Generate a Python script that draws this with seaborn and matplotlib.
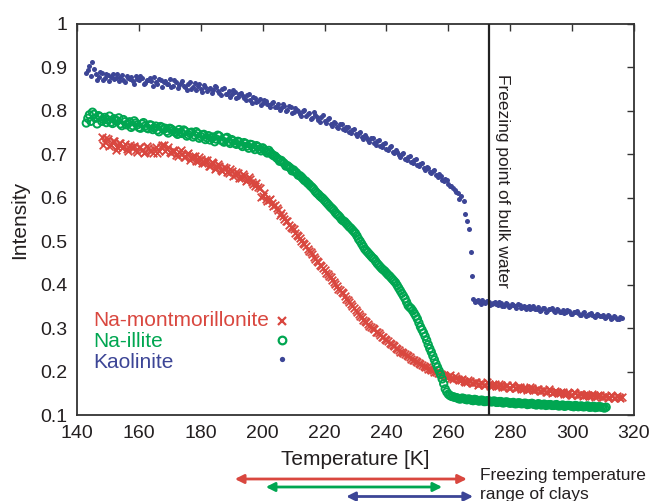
import numpy as np
import pandas as pd
import matplotlib
matplotlib.use("Agg")
import matplotlib.pyplot as plt
import matplotlib.transforms as mtrans
from matplotlib.lines import Line2D
import seaborn as sns

# ---------------- data ----------------
# Na-montmorillonite: samples at whole K from 148 K ...
mont_start = 148
mont_I = [
    0.741, 0.728, 0.735, 0.722, 0.730, 0.716, 0.725, 0.718, 0.712, 0.721,
    0.715, 0.709, 0.718, 0.711, 0.706, 0.714, 0.708, 0.712, 0.704, 0.716,
    0.721, 0.713, 0.705, 0.711, 0.698, 0.706, 0.700, 0.694, 0.703, 0.691,
    0.696, 0.685, 0.690, 0.681, 0.686, 0.674, 0.679, 0.668, 0.674, 0.662,
    0.668, 0.657, 0.662, 0.652, 0.656, 0.646, 0.650, 0.640, 0.643, 0.632,
    0.634, 0.622, 0.605, 0.598, 0.594, 0.589, 0.583, 0.571, 0.565, 0.552,
    0.546, 0.533, 0.527, 0.515, 0.507, 0.497, 0.490, 0.478, 0.470, 0.459,
    0.452, 0.444, 0.434, 0.424, 0.417, 0.405, 0.398, 0.387, 0.380, 0.368,
    0.361, 0.350, 0.342, 0.332, 0.325, 0.316, 0.310, 0.303, 0.297, 0.290,
    0.283, 0.279, 0.272, 0.266, 0.261, 0.254, 0.250, 0.245, 0.240, 0.236,
    0.229, 0.227, 0.221, 0.218, 0.213, 0.210, 0.205, 0.203, 0.199, 0.196,
    0.193, 0.190, 0.188, 0.186, 0.189, 0.182, 0.180, 0.178, 0.176, 0.178,
    0.173, 0.175, 0.171, 0.174, 0.170, 0.172, 0.168, 0.171, 0.167, 0.169,
    0.165, 0.168, 0.163, 0.166, 0.162, 0.164, 0.160, 0.163, 0.159, 0.161,
    0.157, 0.160, 0.155, 0.158, 0.153, 0.156, 0.152, 0.154, 0.150, 0.153,
    0.149, 0.151, 0.147, 0.150, 0.146, 0.148, 0.145, 0.147, 0.144, 0.146,
    0.143, 0.145, 0.142, 0.144, 0.141, 0.143, 0.140, 0.142, 0.141,
]
# ... and at half K from 148.5 K
mont_start_half = 148.5
mont_I_half = [
    0.722, 0.737, 0.719, 0.731, 0.711, 0.726, 0.714, 0.723, 0.708, 0.717,
    0.720, 0.706, 0.716, 0.704, 0.719, 0.709, 0.703, 0.717, 0.707, 0.722,
    0.708, 0.716, 0.702, 0.708, 0.696, 0.709, 0.693, 0.701, 0.688, 0.697,
    0.684, 0.694, 0.679, 0.688, 0.672, 0.683, 0.667, 0.677, 0.663, 0.670,
    0.659, 0.666, 0.651, 0.660, 0.645, 0.654, 0.638, 0.648, 0.636, 0.628,
    0.625, 0.601, 0.610, 0.592, 0.598, 0.580, 0.576, 0.560, 0.557, 0.546,
    0.538, 0.531, 0.519, 0.512, 0.500, 0.494, 0.482, 0.475, 0.463, 0.455,
    0.446, 0.439, 0.427, 0.420, 0.410, 0.402, 0.391, 0.384, 0.373, 0.365,
    0.355, 0.347, 0.336, 0.329, 0.319, 0.314, 0.305, 0.301, 0.292, 0.288,
    0.280, 0.275, 0.270, 0.263, 0.258, 0.253, 0.246, 0.243, 0.237, 0.234,
    0.227, 0.224, 0.219, 0.216, 0.211, 0.207, 0.204, 0.200, 0.197, 0.194,
    0.191, 0.188, 0.192, 0.184, 0.185, 0.180, 0.183, 0.176, 0.180, 0.174,
    0.176, 0.170, 0.173, 0.169, 0.175, 0.167, 0.170, 0.166, 0.172, 0.165,
    0.167, 0.163, 0.169, 0.161, 0.165, 0.160, 0.162, 0.158, 0.164, 0.157,
    0.159, 0.155, 0.157, 0.154, 0.159, 0.151, 0.155, 0.150, 0.153, 0.149,
    0.150, 0.146, 0.152, 0.145, 0.149, 0.144, 0.147, 0.143, 0.148, 0.142,
    0.146, 0.141, 0.144, 0.140, 0.145, 0.139, 0.143, 0.140,
]

# Na-illite: whole K from 143 K ...
illite_start = 143
illite_I = [
    0.772, 0.791, 0.797, 0.783, 0.789, 0.776, 0.785, 0.779, 0.774, 0.782,
    0.777, 0.770, 0.780, 0.768, 0.775, 0.766, 0.772, 0.762, 0.770, 0.765,
    0.759, 0.767, 0.761, 0.756, 0.764, 0.758, 0.753, 0.760, 0.755, 0.750,
    0.757, 0.748, 0.753, 0.745, 0.751, 0.744, 0.748, 0.741, 0.746, 0.738,
    0.733, 0.740, 0.735, 0.742, 0.731, 0.737, 0.729, 0.734, 0.726, 0.730,
    0.722, 0.727, 0.719, 0.723, 0.716, 0.720, 0.712, 0.715, 0.707, 0.709,
    0.700, 0.696, 0.689, 0.686, 0.679, 0.674, 0.668, 0.664, 0.657, 0.651,
    0.644, 0.638, 0.631, 0.624, 0.615, 0.608, 0.601, 0.594, 0.586, 0.578,
    0.571, 0.562, 0.555, 0.547, 0.541, 0.533, 0.526, 0.518, 0.505, 0.494,
    0.482, 0.474, 0.466, 0.459, 0.449, 0.441, 0.434, 0.427, 0.420, 0.412,
    0.404, 0.392, 0.380, 0.368, 0.352, 0.345, 0.334, 0.321, 0.303, 0.289,
    0.272, 0.253, 0.236, 0.218, 0.202, 0.183, 0.160, 0.148, 0.143, 0.141,
    0.139, 0.137, 0.138, 0.135, 0.136, 0.133, 0.135, 0.132, 0.134, 0.131,
    0.133, 0.130, 0.132, 0.129, 0.131, 0.128, 0.130, 0.127, 0.129, 0.126,
    0.128, 0.126, 0.127, 0.125, 0.127, 0.124, 0.126, 0.123, 0.125, 0.123,
    0.124, 0.122, 0.124, 0.121, 0.123, 0.121, 0.122, 0.120, 0.122, 0.119,
    0.121, 0.119, 0.121, 0.118, 0.120, 0.118, 0.119, 0.117, 0.118,
]
# ... and at half K from 143.5 K
illite_start_half = 143.5
illite_I_half = [
    0.783, 0.776, 0.792, 0.770, 0.786, 0.781, 0.773, 0.788, 0.771, 0.778,
    0.784, 0.766, 0.775, 0.771, 0.762, 0.777, 0.768, 0.760, 0.773, 0.761,
    0.768, 0.757, 0.765, 0.752, 0.762, 0.760, 0.749, 0.758, 0.752, 0.746,
    0.751, 0.756, 0.742, 0.749, 0.740, 0.752, 0.737, 0.745, 0.734, 0.743,
    0.739, 0.729, 0.744, 0.733, 0.728, 0.739, 0.725, 0.731, 0.723, 0.728,
    0.718, 0.725, 0.714, 0.722, 0.711, 0.717, 0.708, 0.711, 0.703, 0.704,
    0.697, 0.692, 0.684, 0.682, 0.673, 0.671, 0.662, 0.660, 0.652, 0.648,
    0.640, 0.634, 0.627, 0.620, 0.611, 0.604, 0.598, 0.590, 0.582, 0.575,
    0.566, 0.559, 0.550, 0.545, 0.537, 0.530, 0.522, 0.512, 0.500, 0.488,
    0.478, 0.470, 0.462, 0.454, 0.445, 0.437, 0.431, 0.423, 0.416, 0.408,
    0.398, 0.386, 0.374, 0.360, 0.348, 0.340, 0.328, 0.312, 0.296, 0.281,
    0.262, 0.245, 0.227, 0.210, 0.193, 0.172, 0.153, 0.145, 0.142, 0.140,
    0.137, 0.139, 0.136, 0.137, 0.134, 0.136, 0.133, 0.134, 0.131, 0.133,
    0.131, 0.132, 0.129, 0.131, 0.128, 0.130, 0.128, 0.128, 0.126, 0.128,
    0.126, 0.127, 0.124, 0.126, 0.125, 0.123, 0.125, 0.124, 0.122, 0.124,
    0.122, 0.123, 0.121, 0.122, 0.120, 0.122, 0.121, 0.119, 0.121, 0.120,
    0.119, 0.120, 0.118, 0.119, 0.117, 0.119, 0.118, 0.116,
]

# Kaolinite: 143..264 K (whole and half K), the sudden drop, then 268..316 K
kaol_start = 143
kaol_I_before = [
    0.888, 0.903, 0.912, 0.884, 0.879, 0.887, 0.876, 0.883, 0.879, 0.873,
    0.885, 0.877, 0.871, 0.880, 0.874, 0.868, 0.881, 0.870, 0.876, 0.865,
    0.872, 0.869, 0.878, 0.862, 0.870, 0.866, 0.861, 0.873, 0.858, 0.866,
    0.860, 0.869, 0.855, 0.862, 0.851, 0.864, 0.857, 0.850, 0.859, 0.846,
    0.853, 0.848, 0.856, 0.842, 0.850, 0.839, 0.846, 0.838, 0.843, 0.833,
    0.841, 0.829, 0.836, 0.826, 0.832, 0.821, 0.828, 0.818, 0.823, 0.814,
    0.819, 0.809, 0.816, 0.806, 0.812, 0.801, 0.808, 0.798, 0.803, 0.793,
    0.799, 0.788, 0.795, 0.784, 0.790, 0.779, 0.786, 0.776, 0.781, 0.770,
    0.775, 0.764, 0.769, 0.758, 0.764, 0.752, 0.757, 0.746, 0.750, 0.740,
    0.744, 0.733, 0.737, 0.727, 0.730, 0.719, 0.723, 0.713, 0.716, 0.705,
    0.709, 0.698, 0.701, 0.690, 0.693, 0.683, 0.686, 0.675, 0.678, 0.668,
    0.671, 0.660, 0.662, 0.652, 0.654, 0.642, 0.644, 0.632, 0.628, 0.618,
    0.612, 0.603,
]
kaol_start_half = 143.5
kaol_I_before_half = [
    0.894, 0.881, 0.897, 0.872, 0.889, 0.870, 0.886, 0.868, 0.884, 0.876,
    0.869, 0.882, 0.866, 0.875, 0.879, 0.863, 0.874, 0.880, 0.861, 0.871,
    0.876, 0.858, 0.867, 0.873, 0.856, 0.868, 0.862, 0.855, 0.871, 0.853,
    0.864, 0.857, 0.849, 0.866, 0.854, 0.847, 0.861, 0.844, 0.855, 0.851,
    0.841, 0.857, 0.845, 0.836, 0.852, 0.840, 0.833, 0.849, 0.830, 0.840,
    0.834, 0.824, 0.838, 0.819, 0.830, 0.823, 0.813, 0.826, 0.816, 0.808,
    0.821, 0.810, 0.803, 0.817, 0.800, 0.812, 0.796, 0.806, 0.799, 0.789,
    0.802, 0.792, 0.781, 0.797, 0.786, 0.775, 0.791, 0.772, 0.783, 0.766,
    0.772, 0.761, 0.770, 0.755, 0.762, 0.748, 0.759, 0.743, 0.751, 0.735,
    0.741, 0.729, 0.738, 0.722, 0.732, 0.716, 0.725, 0.709, 0.719, 0.702,
    0.706, 0.693, 0.703, 0.686, 0.697, 0.679, 0.689, 0.672, 0.681, 0.665,
    0.668, 0.657, 0.664, 0.647, 0.651, 0.638, 0.640, 0.626, 0.622, 0.614,
    0.598,
]
kaol_T_drop = [265.0, 265.5, 266.0, 266.8, 267.3, 267.6]
kaol_I_drop = [0.592, 0.563, 0.547, 0.528, 0.476, 0.421]
kaol_after_start = 268
kaol_I_after = [
    0.366, 0.362, 0.359, 0.364, 0.357, 0.361, 0.356, 0.360, 0.354, 0.358,
    0.352, 0.356, 0.350, 0.354, 0.347, 0.353, 0.349, 0.345, 0.351, 0.346,
    0.343, 0.349, 0.341, 0.346, 0.339, 0.344, 0.340, 0.345, 0.337, 0.342,
    0.336, 0.340, 0.333, 0.338, 0.335, 0.331, 0.337, 0.330, 0.334, 0.329,
    0.332, 0.327, 0.331, 0.325, 0.329, 0.323, 0.326, 0.321, 0.324,
]
kaol_after_start_half = 268.5
kaol_I_after_half = [
    0.360, 0.365, 0.355, 0.359, 0.362, 0.353, 0.358, 0.355, 0.361, 0.351,
    0.357, 0.349, 0.355, 0.351, 0.356, 0.346, 0.352, 0.348, 0.343, 0.350,
    0.345, 0.340, 0.347, 0.337, 0.343, 0.346, 0.336, 0.341, 0.338, 0.334,
    0.341, 0.333, 0.337, 0.339, 0.330, 0.335, 0.328, 0.333, 0.331, 0.326,
    0.330, 0.328, 0.324, 0.330, 0.322, 0.327, 0.320, 0.325,
]

series_names = ["Na-montmorillonite", "Na-illite", "Kaolinite"]
freezing_point = 273.15
range_lo = [191, 201, 227]   # freezing temperature range of clays [K]
range_hi = [266, 258, 268]

xticks = [140, 160, 180, 200, 220, 240, 260, 280, 300, 320]
yticks = [0.1, 0.2, 0.3, 0.4, 0.5, 0.6, 0.7, 0.8, 0.9, 1.0]
ytick_labels = ["0.1", "0.2", "0.3", "0.4", "0.5", "0.6", "0.7", "0.8", "0.9", "1"]


# ---------------- tables ----------------
def grid(start, vals):
    return start + np.arange(len(vals))


df_m = pd.DataFrame({
    "T": np.concatenate([grid(mont_start, mont_I), grid(mont_start_half, mont_I_half)]),
    "I": mont_I + mont_I_half,
})
df_i = pd.DataFrame({
    "T": np.concatenate([grid(illite_start, illite_I), grid(illite_start_half, illite_I_half)]),
    "I": illite_I + illite_I_half,
})
df_k = pd.DataFrame({
    "T": np.concatenate([grid(kaol_start, kaol_I_before),
                         grid(kaol_start_half, kaol_I_before_half),
                         kaol_T_drop,
                         grid(kaol_after_start, kaol_I_after),
                         grid(kaol_after_start_half, kaol_I_after_half)]),
    "I": kaol_I_before + kaol_I_before_half + kaol_I_drop + kaol_I_after + kaol_I_after_half,
})

RED = "#d9473f"
GREEN = "#00a651"
BLUE = "#3c4596"
colors = [RED, GREEN, BLUE]
TXT = "#231f20"

sns.set_theme(style="white")
plt.rcParams["font.family"] = ["Liberation Sans", "DejaVu Sans"]

fig = plt.figure(figsize=(6.54, 5.01), dpi=100)
W, H = 654, 501
ax = fig.add_axes([77 / W, 1 - 415 / H, 557 / W, 391 / H])

sns.scatterplot(data=df_m, x="T", y="I", marker="x", s=30, color=RED,
                linewidth=1.3, ax=ax, legend=False, zorder=3)
sns.scatterplot(data=df_i, x="T", y="I", marker="o", s=28, color=GREEN,
                facecolor="none", edgecolor=GREEN, linewidth=1.4, ax=ax,
                legend=False, zorder=3)
sns.scatterplot(data=df_k, x="T", y="I", marker="o", s=13, color=BLUE,
                linewidth=0, ax=ax, legend=False, zorder=3)

ax.set_xlim(140, 320)
ax.set_ylim(0.1, 1.0)
ax.set_xticks(xticks)
ax.set_yticks(yticks, labels=ytick_labels)
ax.tick_params(direction="in", length=5, width=1.0, top=True, right=True,
               labelsize=14, pad=7, color="#333333", labelcolor=TXT)
for sp in ax.spines.values():
    sp.set_color("#333333")
    sp.set_linewidth(1.3)

ax.set_xlabel("Temperature [K]", fontsize=15, color=TXT, labelpad=6)
ax.set_ylabel("Intensity", fontsize=15, color=TXT, labelpad=8)

# freezing point of bulk water
ax.axvline(freezing_point, color="#222222", lw=1.6, zorder=4)
ax.text(freezing_point + 2.0, 0.885, "Freezing point of bulk water",
        rotation=-90, ha="left", va="top", fontsize=12.5, color=TXT)

# legend (gnuplot style: label left, marker right)
label_y = [0.241, 0.189, 0.133]
for name, c, yy in zip(series_names, colors, label_y):
    ax.text(0.029, yy, name, transform=ax.transAxes, color=c, fontsize=15,
            ha="left", va="center")
handles = [
    Line2D([], [], ls="none", marker="x", color=RED, ms=5.5, mew=1.6),
    Line2D([], [], ls="none", marker="o", mfc="none", mec=GREEN, ms=5.5, mew=1.6),
    Line2D([], [], ls="none", marker="o", color=BLUE, ms=3.8, mew=0),
]
leg = ax.legend(handles, ["", "", ""], loc="center",
                bbox_to_anchor=(0.368, 0.188), frameon=False,
                handletextpad=0, handlelength=1.0, fontsize=11,
                labelspacing=0.35, borderpad=0, borderaxespad=0)

# freezing temperature ranges below the axis
blend = mtrans.blended_transform_factory(ax.transData, fig.transFigure)
arrow_y = [1 - 479 / H, 1 - 487 / H, 1 - 496.5 / H]
for lo, hi, c, yy in zip(range_lo, range_hi, colors, arrow_y):
    ax.annotate("", xy=(hi, yy), xytext=(lo, yy), xycoords=blend,
                textcoords=blend, annotation_clip=False,
                arrowprops=dict(arrowstyle="<|-|>", color=c, lw=2.0,
                                mutation_scale=13, shrinkA=0, shrinkB=0))
ax.text(270.2, 1 - 480 / H, "Freezing temperature", transform=blend,
        fontsize=12.5, color=TXT, ha="left", va="baseline")
ax.text(270.2, 1 - 499 / H, "range of clays", transform=blend,
        fontsize=12.5, color=TXT, ha="left", va="baseline")

fig.savefig("out.png", dpi=100)
